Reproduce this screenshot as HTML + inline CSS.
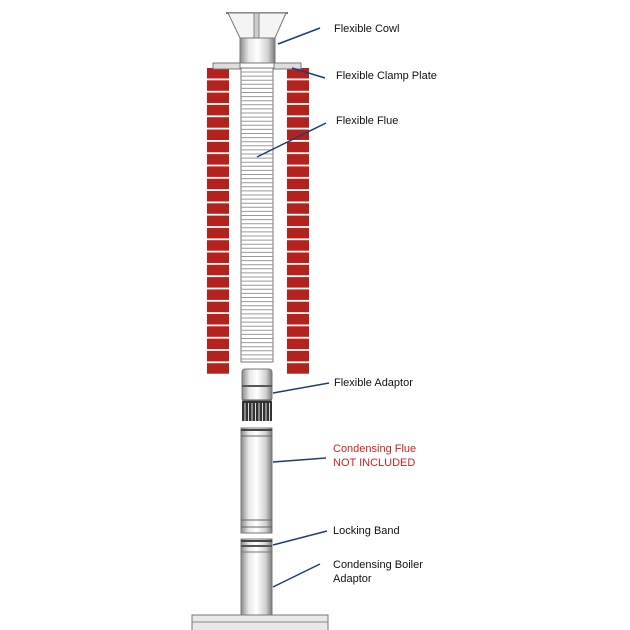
<!DOCTYPE html>
<html><head><meta charset="utf-8"><style>
body{margin:0;background:#fff}
svg{display:block}
text{font-family:"Liberation Sans",Arial,sans-serif;font-size:11px;fill:#111}
</style></head><body>
<svg id="s" width="630" height="630" viewBox="0 0 630 630">
<defs>
<linearGradient id="pipe" x1="0" x2="1" y1="0" y2="0">
<stop offset="0" stop-color="#8a8a8a"/><stop offset="0.25" stop-color="#e8e8e8"/><stop offset="0.5" stop-color="#ffffff"/><stop offset="0.8" stop-color="#d0d0d0"/><stop offset="1" stop-color="#7a7a7a"/>
</linearGradient>
</defs>
<g id="bricks"></g>
<!-- flexible flue -->
<rect x="241" y="68" width="32" height="294" fill="#fff" stroke="#777" stroke-width="1"/>
<g id="ribs" stroke="#999" stroke-width="1"></g>
<!-- cowl -->
<line x1="226" y1="13" x2="288" y2="13" stroke="#444" stroke-width="1.5"/>
<polygon points="228,13 286,13 275,38 240,38" fill="#f4f4f4" stroke="#777"/>
<rect x="254" y="13" width="5" height="25" fill="#ccc" stroke="#888"/>
<rect x="240" y="38" width="35" height="25" fill="url(#pipe)" stroke="#777"/>
<!-- clamp plates -->
<rect x="213" y="63" width="27" height="6" fill="#ddd" stroke="#777"/>
<rect x="274" y="63" width="27" height="6" fill="#ddd" stroke="#777"/>
<!-- flexible adaptor -->
<rect x="242" y="369" width="30" height="32" rx="3" fill="url(#pipe)" stroke="#777"/>
<line x1="242" y1="386" x2="272" y2="386" stroke="#555" stroke-width="2"/>
<line x1="242" y1="400" x2="272" y2="400" stroke="#555"/>
<rect x="242" y="401" width="30" height="20" fill="#333"/>
<g id="grille" stroke="#ddd" stroke-width="1"></g>
<!-- condensing flue -->
<rect x="241" y="428" width="31" height="105" fill="url(#pipe)" stroke="#777"/>
<line x1="241" y1="430" x2="272" y2="430" stroke="#444" stroke-width="2"/>
<line x1="241" y1="436" x2="272" y2="436" stroke="#666"/>
<line x1="241" y1="520" x2="272" y2="520" stroke="#666"/>
<line x1="241" y1="527" x2="272" y2="527" stroke="#666"/>
<!-- boiler adaptor -->
<rect x="241" y="539" width="31" height="76" fill="url(#pipe)" stroke="#777"/>
<line x1="241" y1="541" x2="272" y2="541" stroke="#444" stroke-width="2"/>
<line x1="241" y1="546" x2="272" y2="546" stroke="#555" stroke-width="2"/>
<line x1="241" y1="552" x2="272" y2="552" stroke="#777"/>
<!-- base -->
<rect x="192" y="615" width="136" height="16" fill="#e8e8e8" stroke="#777"/>
<line x1="192" y1="622" x2="328" y2="622" stroke="#888"/>
<!-- leaders -->
<g stroke="#1f3f6f" stroke-width="1.5">
<line x1="278" y1="44" x2="320" y2="28"/>
<line x1="292" y1="68" x2="325" y2="78"/>
<line x1="257" y1="157" x2="326" y2="123"/>
<line x1="273" y1="393" x2="329" y2="383"/>
<line x1="273" y1="462" x2="326" y2="458"/>
<line x1="273" y1="545" x2="327" y2="531"/>
<line x1="273" y1="587" x2="320" y2="564"/>
</g>
<text x="334" y="32">Flexible Cowl</text>
<text x="336" y="79">Flexible Clamp Plate</text>
<text x="336" y="124">Flexible Flue</text>
<text x="334" y="386">Flexible Adaptor</text>
<text x="333" y="452" style="fill:#d42020">Condensing Flue</text>
<text x="333" y="466" style="fill:#d42020">NOT INCLUDED</text>
<text x="333" y="534">Locking Band</text>
<text x="333" y="568">Condensing Boiler</text>
<text x="333" y="582">Adaptor</text>
</svg>
<script>
var ns="http://www.w3.org/2000/svg";
function el(p,t,a){var e=document.createElementNS(ns,t);for(var k in a)e.setAttribute(k,a[k]);p.appendChild(e);}
var b=document.getElementById("bricks");
for(var i=0;i<25;i++){var y=68+i*12.3;
el(b,"rect",{x:207,y:y,width:22,height:10.5,fill:"#b3221c"});
el(b,"rect",{x:287,y:y,width:22,height:10.5,fill:"#b3221c"});}
var r=document.getElementById("ribs");
for(var y=72;y<362;y+=4.1)el(r,"line",{x1:241,y1:y,x2:273,y2:y});
var g=document.getElementById("grille");
for(var x=245;x<272;x+=3.5)el(g,"line",{x1:x,y1:403,x2:x,y2:421});
</script>
</body></html>
